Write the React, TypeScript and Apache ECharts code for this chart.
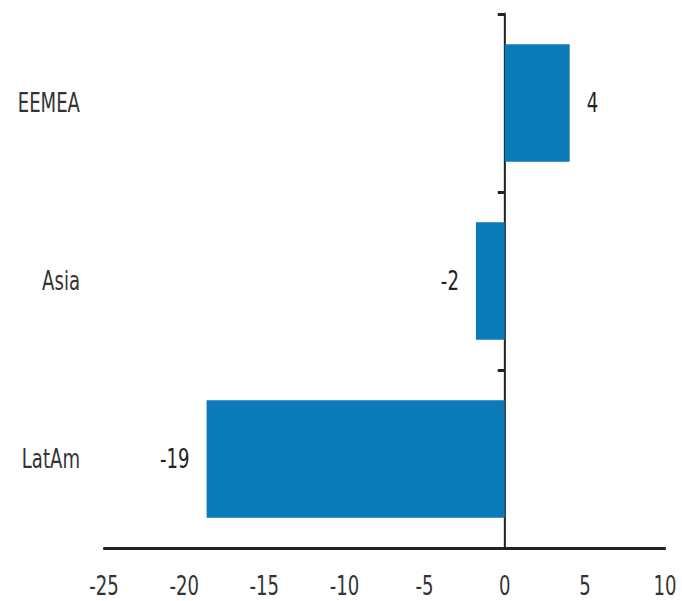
import React, { useEffect, useRef } from "react";
import * as echarts from "echarts";

// Regions, listed bottom-to-top as the category axis draws them
const regions = ["LatAm", "Asia", "EEMEA"];
const values = [-18.6, -1.8, 4.05];
const xTicks = { min: -25, max: 10, interval: 5 };

// The chart is laid out wide and squeezed horizontally, giving tall, narrow lettering
const W = 682;
const H = 601;
const SX = 0.67;
const ux = (px: number) => px / SX;

const FONT = "'DejaVu Sans', sans-serif";
const BAR_COLOR = "#0a7ab8";
const INK = "#222222";

export default function App() {
  const ref = useRef<HTMLDivElement>(null);

  useEffect(() => {
    if (!ref.current) return;
    const chart = echarts.init(ref.current, null, { renderer: "svg" });

    const barData = values.map((v) => ({
      value: v,
      label: { position: v >= 0 ? "right" : "left" },
    }));

    chart.setOption({
      animation: false,
      backgroundColor: "#ffffff",
      grid: { left: ux(104), right: ux(17), top: 14, bottom: 53 },
      xAxis: {
        type: "value",
        min: xTicks.min,
        max: xTicks.max,
        interval: xTicks.interval,
        axisLine: { show: true, onZero: false, lineStyle: { color: INK, width: 3 } },
        axisTick: { show: false },
        splitLine: { show: false },
        axisLabel: { color: "#333", fontFamily: FONT, fontSize: 27, margin: 24 },
      },
      yAxis: [
        {
          // region names along the left edge
          type: "category",
          data: regions,
          axisLine: { show: false, onZero: false },
          axisTick: { show: false },
          axisLabel: { color: "#333", fontFamily: FONT, fontSize: 27, margin: ux(24) },
        },
        {
          // spine at zero with ticks between the bands
          type: "category",
          data: regions,
          position: "left",
          axisLine: { show: true, onZero: true, lineStyle: { color: INK, width: 3 } },
          axisTick: { show: true, length: ux(7), lineStyle: { color: INK, width: 3 } },
          axisLabel: { show: false },
        },
      ],
      series: [
        {
          type: "bar",
          yAxisIndex: 0,
          data: barData,
          barCategoryGap: "34%",
          itemStyle: { color: BAR_COLOR },
          label: {
            show: true,
            distance: ux(17),
            color: INK,
            fontFamily: FONT,
            fontSize: 27,
            formatter: (p: any) => String(Math.round(p.value)),
          },
        },
      ],
    });

    return () => chart.dispose();
  }, []);

  return (
    <div
      style={{
        position: "fixed",
        left: 0,
        top: 0,
        width: W,
        height: H,
        overflow: "hidden",
        background: "#ffffff",
      }}
    >
      <div
        ref={ref}
        style={{
          width: ux(W),
          height: H,
          transform: `scaleX(${SX})`,
          transformOrigin: "left top",
        }}
      />
    </div>
  );
}
